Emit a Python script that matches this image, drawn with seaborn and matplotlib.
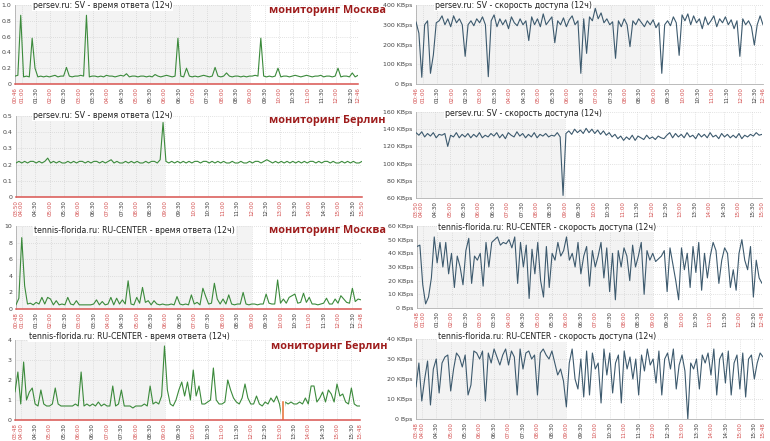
import numpy as np
import pandas as pd
import matplotlib
matplotlib.use("Agg")
import matplotlib.pyplot as plt
import seaborn as sns

# start of each 12h window, minutes after midnight
start_persev_msk = 46      # 00:46
start_persev_ber = 230     # 03:50
start_tennis_msk = 48      # 00:48
start_tennis_ber = 228     # 03:48
shade_end = 9.0            # grey zone ends at 09:00

# persev.ru, Moscow: response time, s
resp_persev_msk = [
    0.10, 0.11, 0.87, 0.09, 0.10, 0.09, 0.58, 0.20, 0.09, 0.10,
    0.09, 0.10, 0.09, 0.10, 0.11, 0.09, 0.10, 0.10, 0.21, 0.10,
    0.09, 0.10, 0.10, 0.11, 0.10, 0.87, 0.09, 0.10, 0.10, 0.09,
    0.10, 0.09, 0.11, 0.10, 0.10, 0.09, 0.10, 0.11, 0.10, 0.13,
    0.09, 0.10, 0.10, 0.09, 0.10, 0.10, 0.09, 0.10, 0.09, 0.12,
    0.10, 0.09, 0.10, 0.11, 0.10, 0.09, 0.10, 0.58, 0.10, 0.09,
    0.20, 0.10, 0.09, 0.10, 0.09, 0.10, 0.11, 0.10, 0.09, 0.10,
    0.21, 0.10, 0.09, 0.10, 0.14, 0.10, 0.09, 0.10, 0.10, 0.09,
    0.10, 0.09, 0.10, 0.10, 0.11, 0.10, 0.58, 0.10, 0.09, 0.10,
    0.09, 0.10, 0.20, 0.09, 0.10, 0.10, 0.09, 0.10, 0.11, 0.10,
    0.09, 0.10, 0.11, 0.10, 0.09, 0.10, 0.10, 0.11, 0.09, 0.10,
    0.10, 0.09, 0.10, 0.20, 0.09, 0.10, 0.10, 0.09, 0.14, 0.09,
    0.11]

# persev.ru, Moscow: download speed, KBps
speed_persev_msk = [
    315, 257, 34, 300, 320, 54, 147, 310, 320, 345,
    300, 330, 290, 345, 310, 330, 300, 140, 300, 320,
    295, 330, 310, 340, 300, 37, 320, 350, 290, 330,
    300, 325, 280, 340, 310, 295, 330, 300, 320, 220,
    340, 300, 330, 290, 355, 300, 320, 340, 209, 320,
    300, 335, 290, 325, 345, 300, 320, 54, 330, 155,
    340, 320, 383, 330, 360, 310, 330, 300, 315, 130,
    320, 290, 330, 300, 189, 320, 300, 330, 310, 290,
    320, 300, 325, 285, 310, 54, 300, 320, 295, 340,
    310, 145, 350, 320, 355, 300, 345, 310, 330, 280,
    340, 300, 320, 345, 290, 330, 310, 340, 300, 325,
    280, 320, 140, 330, 300, 320, 290, 197, 300, 345,
    300]

# persev.ru, Berlin: response time, s
resp_persev_ber = [
    .21, .22, .21, .22, .21, .22, .22, .21, .22, .21,
    .22, .24, .21, .22, .21, .22, .21, .21, .22, .21,
    .22, .21, .22, .22, .21, .22, .21, .22, .22, .21,
    .22, .21, .22, .23, .21, .22, .21, .21, .22, .21,
    .22, .21, .22, .21, .21, .22, .21, .22, .22, .21,
    .23, .46, .22, .21, .22, .21, .22, .21, .22, .21,
    .22, .21, .22, .22, .21, .22, .22, .21, .22, .21,
    .22, .21, .22, .21, .21, .22, .21, .21, .22, .21,
    .21, .22, .21, .22, .22, .21, .22, .23, .22, .21,
    .22, .21, .22, .21, .22, .21, .22, .21, .22, .21,
    .22, .21, .22, .22, .21, .22, .21, .22, .22, .21,
    .22, .21, .21, .22, .21, .22, .21, .22, .21, .21,
    .22]

# persev.ru, Berlin: download speed, KBps
speed_persev_ber = [
    136, 133, 137, 131, 135, 132, 136, 130, 134, 133,
    135, 120, 133, 131, 136, 130, 134, 131, 135, 130,
    134, 131, 136, 130, 133, 131, 135, 132, 136, 130,
    134, 129, 136, 133, 131, 137, 132, 135, 130, 134,
    131, 136, 130, 134, 132, 135, 131, 133, 132, 136,
    131, 63, 135, 138, 134, 140, 136, 139, 135, 141,
    136, 140, 135, 139, 134, 138, 133, 136, 131, 134,
    129, 132, 127, 131, 128, 133, 127, 132, 130, 128,
    133, 129, 131, 128, 132, 130, 129, 133, 136, 130,
    135, 131, 134, 130, 136, 131, 133, 129, 135, 131,
    134, 130, 136, 131, 133, 129, 135, 131, 134, 130,
    133, 130, 135, 129, 133, 131, 134, 132, 136, 133,
    134]

# tennis-florida.ru, Moscow: response time, s
resp_tennis_msk = [
    0.5, 1.3, 8.6, 2.8, 0.6, 0.7, 0.5, 0.8, 0.6, 1.4,
    0.6, 1.4, 1.2, 0.5, 1.0, 0.5, 0.6, 0.5, 1.4, 0.6,
    0.5, 1.0, 0.5, 0.5, 0.5, 0.5, 0.5, 0.6, 1.1, 0.5,
    0.9, 0.5, 0.6, 1.4, 0.5, 1.3, 0.6, 1.1, 0.6, 3.4,
    0.6, 0.5, 1.4, 0.7, 2.6, 0.8, 1.0, 0.5, 1.0, 0.6,
    0.5, 0.6, 0.5, 0.5, 0.6, 0.5, 1.5, 0.6, 0.5, 0.6,
    0.5, 1.7, 0.6, 0.8, 0.5, 2.5, 1.5, 0.6, 0.7, 3.1,
    1.2, 0.6, 1.2, 0.6, 1.7, 0.6, 0.5, 0.6, 0.6, 2.0,
    0.6, 0.5, 0.6, 0.6, 0.5, 0.6, 0.6, 1.8, 0.7, 0.6,
    0.6, 3.5, 0.7, 1.2, 0.7, 1.4, 1.6, 1.8, 0.7, 0.8,
    1.9, 0.8, 1.4, 0.6, 0.6, 0.5, 0.6, 0.7, 1.3, 0.6,
    0.6, 1.2, 0.7, 1.6, 1.2, 0.8, 0.7, 2.5, 0.9, 1.2,
    1.1]

# tennis-florida.ru, Moscow: download speed, KBps
speed_tennis_msk = [
    45, 46, 17, 3, 8, 22, 52, 33, 48, 30,
    48, 25, 40, 15, 38, 30, 17, 42, 51, 18,
    38, 35, 40, 16, 48, 30, 48, 50, 52, 46,
    48, 47, 50, 44, 52, 18, 48, 30, 46, 7,
    43, 25, 48, 20, 8, 45, 15, 40, 35, 48,
    38, 42, 52, 35, 40, 30, 48, 25, 38, 45,
    16, 42, 30, 38, 48, 22, 44, 12, 40, 6,
    42, 30, 44, 38, 20, 46, 30, 38, 48, 10,
    42, 35, 40, 34, 36, 38, 42, 12, 44, 32,
    20, 6, 44, 28, 40, 15, 45, 26, 48, 13,
    40, 22, 38, 48, 42, 18, 35, 44, 40, 15,
    28, 13, 40, 50, 35, 28, 45, 8, 35, 22,
    18]

# tennis-florida.ru, Berlin: response time, s
resp_tennis_ber = [
    1.4, 2.4, 0.8, 2.9, 1.0, 1.4, 1.6, 0.8, 0.7, 1.5,
    0.8, 0.7, 0.7, 0.8, 1.6, 0.8, 0.7, 0.7, 0.7, 0.7,
    0.7, 0.8, 0.7, 2.4, 0.7, 0.8, 0.7, 0.8, 0.7, 0.9,
    0.7, 0.8, 0.7, 0.7, 1.7, 0.7, 0.8, 1.5, 0.7, 0.7,
    0.7, 0.6, 0.7, 0.7, 0.7, 0.8, 0.7, 1.7, 0.8, 0.9,
    0.8, 1.2, 3.7, 1.5, 0.8, 0.7, 1.0, 1.5, 1.9, 1.2,
    1.9, 1.0, 2.5, 1.2, 1.7, 0.8, 0.8, 0.9, 1.0, 2.6,
    1.0, 0.8, 0.8, 0.9, 2.0, 1.5, 1.1, 0.9, 0.8, 1.1,
    1.8, 1.1, 0.8, 0.8, 1.2, 0.8, 0.7, 0.9, 0.8, 1.1,
    0.9, 1.2, 0.8, 0.0, 0.9, 0.8, 0.9, 0.8, 0.8, 0.9,
    0.8, 1.1, 0.8, 1.7, 1.7, 0.9, 1.1, 1.4, 0.9, 1.5,
    1.3, 0.9, 1.8, 1.2, 1.3, 0.9, 0.8, 1.6, 0.8, 0.7,
    0.7]
# failed check marker (orange bar)
fail_tennis_ber_t = [13.1]
fail_tennis_ber_h = [1.0]

# tennis-florida.ru, Berlin: download speed, KBps
speed_tennis_ber = [
    16, 28, 9, 20, 29, 7, 25, 30, 13, 28,
    31, 32, 14, 25, 33, 31, 26, 32, 12, 17,
    34, 33, 30, 34, 9, 33, 28, 35, 31, 27,
    32, 35, 27, 34, 31, 12, 35, 25, 33, 34,
    30, 32, 12, 33, 35, 32, 30, 34, 28, 22,
    25, 19, 6, 28, 35, 20, 15, 30, 11, 34,
    12, 33, 25, 28, 8, 35, 22, 33, 13, 28,
    32, 8, 34, 25, 31, 20, 30, 12, 32, 24,
    35, 27, 30, 18, 34, 12, 30, 33, 25, 35,
    15, 27, 32, 24, 0, 28, 25, 30, 15, 32,
    28, 33, 22, 35, 12, 30, 33, 18, 34, 12,
    28, 32, 15, 33, 11, 30, 32, 20, 28, 33,
    31]

title_resp_persev = "persev.ru: SV - время ответа (12ч)"
title_speed_persev = "persev.ru: SV - скорость доступа (12ч)"
title_resp_tennis = "tennis-florida.ru: RU-CENTER - время ответа (12ч)"
title_speed_tennis = "tennis-florida.ru: RU-CENTER - скорость доступа (12ч)"
label_msk = "мониторинг Москва"
label_ber = "мониторинг Берлин"

W, H = 770, 441
GREEN = "#3b8a3b"
BLUE = "#3d5a6e"
RED = "#d24b4b"

sns.set_style("white")
plt.rcParams['font.family'] = ['DejaVu Sans']

fig = plt.figure(figsize=(W / 100, H / 100), dpi=100)


def px_axes(x0, y_top, x1, y_bot):
    return fig.add_axes([x0 / W, 1 - y_bot / H, (x1 - x0) / W, (y_bot - y_top) / H])


def hhmm(m):
    m = int(round(m))
    return "%02d:%02d" % ((m // 60) % 24, m % 60)


def draw(ax, start_min, values, color, yticks, ylabels, red_base):
    t0 = start_min / 60
    t1 = t0 + 12
    t = t0 + np.arange(len(values)) * 12 / (len(values) - 1)
    df = pd.DataFrame({"t": t, "v": values})
    ax.axvspan(t0, shade_end, color="#f3f3f3", zorder=0, lw=0)
    sns.lineplot(data=df, x="t", y="v", ax=ax, color=color, linewidth=0.8, zorder=3)
    ax.set_xlim(t0, t1)
    ax.set_ylim(yticks[0], yticks[-1])
    ax.set_xlabel("")
    ax.set_ylabel("")

    # ticks every 30 min plus window start/end
    mins = [start_min]
    m = (start_min // 30 + 1) * 30
    while m < start_min + 720:
        mins.append(m)
        m += 30
    mins.append(start_min + 720)
    ax.set_xticks([x / 60 for x in mins])
    ax.set_xticklabels([hhmm(x) for x in mins], rotation=90, fontsize=4)
    for lab, x in zip(ax.get_xticklabels(), mins):
        is_red = x % 60 == 0 or x == mins[0] or x == mins[-1]
        lab.set_color(RED if is_red else "#333333")
    ax.set_yticks(yticks)
    ax.set_yticklabels(ylabels, fontsize=4.5, color="#444444")
    ax.tick_params(length=0, pad=2.5)

    ax.grid(True, linestyle=(0, (1, 2)), color="#c8c8c8", linewidth=0.5)
    ax.set_axisbelow(True)
    ax.set_facecolor("white")
    for s in ["top", "right"]:
        ax.spines[s].set_visible(False)
    ax.spines["left"].set_color("#b0b0b0")
    ax.spines["left"].set_linewidth(0.6)
    if red_base:
        ax.spines["bottom"].set_color("#d9534f")
        ax.spines["bottom"].set_linewidth(1.1)
    else:
        ax.spines["bottom"].set_color("#b0b0b0")
        ax.spines["bottom"].set_linewidth(0.6)
    ax.spines["bottom"].set_zorder(4)


def put_title(x, y, text):
    fig.text(x / W, 1 - y / H, text, fontsize=5.7, color="#222222", va="top", ha="left",
             bbox=dict(facecolor="white", edgecolor="none", pad=0.6), zorder=10)


def put_label(x, y, text):
    fig.text(x / W, 1 - y / H, text, fontsize=7.8, color="#9e1c1c", fontweight="bold",
             family=["Open Sans", "DejaVu Sans"], va="top", ha="left", zorder=10)


kb_ticks = lambda vals: [("0 Bps" if v == 0 else "%d KBps" % v) for v in vals]

# row 1
ax = px_axes(15, 5, 358, 84)
yt = [0, 0.2, 0.4, 0.6, 0.8, 1.0]
draw(ax, start_persev_msk, resp_persev_msk, GREEN, yt, ["0", "0.2", "0.4", "0.6", "0.8", "1.0"], True)
ax = px_axes(416, 5, 763, 84)
yt = [0, 100, 200, 300, 400]
draw(ax, start_persev_msk, speed_persev_msk, BLUE, yt, kb_ticks(yt), False)

# row 2
ax = px_axes(16, 116, 362, 197)
yt = [0, 0.1, 0.2, 0.3, 0.4, 0.5]
draw(ax, start_persev_ber, resp_persev_ber, GREEN, yt, ["0", "0.1", "0.2", "0.3", "0.4", "0.5"], True)
ax = px_axes(416, 112, 762, 198)
yt = [60, 80, 100, 120, 140, 160]
draw(ax, start_persev_ber, speed_persev_ber, BLUE, yt, kb_ticks(yt), False)

# row 3
ax = px_axes(16, 226, 361, 309)
yt = [0, 2, 4, 6, 8, 10]
draw(ax, start_tennis_msk, resp_tennis_msk, GREEN, yt, [str(v) for v in yt], True)
ax = px_axes(417, 226, 762, 308)
yt = [0, 10, 20, 30, 40, 50, 60]
draw(ax, start_tennis_msk, speed_tennis_msk, BLUE, yt, kb_ticks(yt), False)

# row 4
ax = px_axes(15, 340, 360, 420)
yt = [0, 1, 2, 3, 4]
draw(ax, start_tennis_ber, resp_tennis_ber, GREEN, yt, [str(v) for v in yt], True)
ax.bar(fail_tennis_ber_t, fail_tennis_ber_h, width=0.09, color="#e8743b", zorder=4)
ax = px_axes(416, 339, 763, 419)
yt = [0, 10, 20, 30, 40]
draw(ax, start_tennis_ber, speed_tennis_ber, BLUE, yt, kb_ticks(yt), False)

# titles and location labels
put_title(33, 1.5, title_resp_persev)
put_title(435, 1.5, title_speed_persev)
put_title(33, 111.5, title_resp_persev)
put_title(445, 109.5, title_speed_persev)
put_title(34, 226, title_resp_tennis)
put_title(438, 222.5, title_speed_tennis)
put_title(29, 332, title_resp_tennis)
put_title(438, 332, title_speed_tennis)

put_label(269, 5, label_msk)
put_label(269, 115, label_ber)
put_label(269, 225, label_msk)
put_label(271, 341, label_ber)

fig.savefig("out.png", dpi=100, facecolor="white")
